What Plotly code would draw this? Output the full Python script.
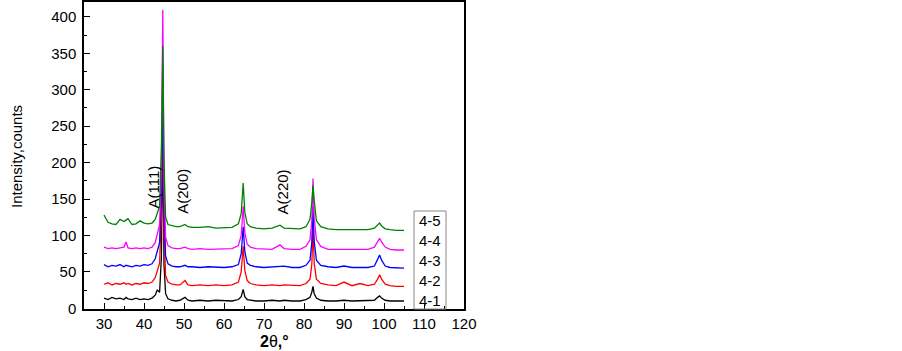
import plotly.graph_objects as go

# 2-theta positions (degrees)
two_theta = [30, 31, 32, 33, 34, 35, 35.5, 36, 37, 38,
             39, 40, 41, 42, 42.8, 43.3, 43.9, 44.35, 44.7, 45.0,
             45.4, 46.0, 47, 48, 49, 50.25, 51, 52, 54, 56,
             58, 60, 62, 63.6, 64.3, 64.8, 65.2, 65.8, 66.6, 68,
             70, 72, 74, 75, 77, 79, 80.5, 81.5, 81.95, 82.25,
             82.55, 83.1, 84.2, 86, 88, 90, 92, 94, 96, 97.6,
             98.4, 98.9, 99.4, 100.3, 101.5, 103, 105]

s41 = [14, 12, 15, 13, 14, 12, 15, 13, 12, 14,
       12, 13, 12, 14, 18, 25, 22, 70, 250, 60,
       20, 13, 11, 10, 11, 15, 11, 10, 11, 10,
       11, 10, 10, 12, 16, 26, 16, 12, 11, 10,
       10, 11, 10, 11, 10, 10, 12, 15, 22, 30,
       20, 14, 11, 10, 10, 11, 10, 10, 10, 11,
       15, 17, 14, 11, 10, 10, 10]

s42 = [33, 35, 32, 34, 33, 35, 33, 34, 32, 34,
       33, 35, 34, 36, 42, 50, 62, 130, 330, 110,
       45, 36, 33, 32, 32, 38, 32, 31, 32, 31,
       32, 31, 32, 36, 50, 85, 52, 38, 34, 32,
       31, 32, 31, 32, 31, 31, 34, 40, 60, 112,
       62, 40, 34, 32, 31, 36, 31, 34, 31, 33,
       40, 46, 40, 33, 31, 30, 30]

s43 = [60, 57, 59, 58, 60, 57, 59, 58, 57, 59,
       58, 60, 59, 61, 68, 78, 90, 160, 290, 140,
       72, 61, 58, 57, 57, 59, 57, 57, 56, 57,
       56, 56, 57, 60, 75, 112, 78, 62, 59, 57,
       56, 57, 57, 58, 56, 56, 59, 66, 90, 140,
       92, 66, 59, 57, 56, 58, 56, 56, 56, 58,
       66, 73, 66, 58, 56, 56, 55]

s44 = [84, 82, 83, 82, 83, 84, 91, 83, 82, 83,
       82, 83, 82, 84, 90, 100, 115, 190, 410, 170,
       98, 86, 83, 82, 82, 84, 82, 81, 82, 81,
       81, 81, 82, 86, 100, 140, 104, 88, 84, 82,
       81, 81, 87, 82, 81, 81, 85, 94, 120, 178,
       125, 94, 85, 81, 81, 81, 81, 81, 81, 84,
       92, 96, 91, 84, 81, 80, 80]

s45 = [128, 118, 116, 115, 122, 119, 121, 123, 115, 116,
       120, 117, 116, 117, 122, 130, 140, 220, 360, 200,
       125, 115, 113, 112, 112, 115, 112, 111, 111, 112,
       110, 110, 111, 116, 130, 172, 132, 116, 112, 110,
       109, 110, 114, 110, 109, 109, 112, 122, 145, 169,
       148, 120, 112, 109, 108, 108, 108, 108, 108, 110,
       115, 117, 113, 109, 108, 107, 107]

series_names = ["4-1", "4-2", "4-3", "4-4", "4-5"]
series_values = [s41, s42, s43, s44, s45]
series_colors = ["#000000", "#FF0000", "#0000FF", "#FF00FF", "#008000"]

peak_labels = ["A(111)", "A(200)", "A(220)"]
peak_label_x = [42.3, 49.75, 74.5]
peak_label_y = [166, 160, 159]

x_tickvals = [30, 40, 50, 60, 70, 80, 90, 100, 110, 120]
y_tickvals = [0, 50, 100, 150, 200, 250, 300, 350, 400]

FONT = "Liberation Sans, Arial, sans-serif"

# plot-area geometry in pixels
L, R, T, B = 84, 464, 2, 309
W_PX, H_PX = R - L, B - T

fig = go.Figure()
for name, vals, col in zip(series_names, series_values, series_colors):
    fig.add_trace(go.Scatter(x=two_theta, y=vals, mode="lines", name=name,
                             line=dict(color=col, width=1.3), showlegend=False))

for txt, xx, yy in zip(peak_labels, peak_label_x, peak_label_y):
    fig.add_annotation(x=xx, y=yy, xref="x", yref="y", text=txt, textangle=-90,
                       xanchor="center", yanchor="middle",
                       showarrow=False, font=dict(family=FONT, size=15, color="black"))

# legend box (text only, as in the reference)
fig.add_shape(type="rect", xref="paper", yref="paper",
              x0=(414 - L) / W_PX, x1=(446 - L) / W_PX,
              y0=0, y1=(B - 211) / H_PX,
              line=dict(color="#888888", width=1), fillcolor="rgba(0,0,0,0)",
              layer="above")
legend_y_px = [300, 280, 260, 240, 220]
for name, ypx in zip(series_names, legend_y_px):
    fig.add_annotation(x=(430 - L) / W_PX, y=(B - ypx) / H_PX, xref="paper", yref="paper",
                       text=name, showarrow=False, xanchor="center", yanchor="middle",
                       font=dict(family=FONT, size=15, color="black"))

# axis titles
fig.add_annotation(x=(274 - L) / W_PX, y=(B - 341) / H_PX, xref="paper", yref="paper",
                   text="<b>2</b>θ<b>,°</b>", showarrow=False,
                   xanchor="center", yanchor="middle",
                   font=dict(family=FONT, size=16, color="black"))
fig.add_annotation(x=(16 - L) / W_PX, y=(B - 157) / H_PX, xref="paper", yref="paper",
                   text="Intensity,counts", textangle=-90, showarrow=False,
                   xanchor="center", yanchor="middle",
                   font=dict(family=FONT, size=15, color="black"))

fig.update_layout(
    width=902, height=351,
    margin=dict(l=L, r=902 - R, t=T, b=351 - B, autoexpand=False),
    plot_bgcolor="white", paper_bgcolor="white",
    font=dict(family=FONT, size=15, color="black"),
)
fig.update_xaxes(
    range=[25, 120], tickvals=x_tickvals, ticks="inside", ticklen=6, tickwidth=1.2,
    tickcolor="black", showgrid=False, zeroline=False, showline=True,
    linecolor="black", linewidth=1.5, mirror=True, automargin=False,
    minor=dict(dtick=5, tick0=25, ticks="inside", ticklen=3, tickcolor="black", showgrid=False),
    tickfont=dict(family=FONT, size=15, color="black"),
)
fig.update_yaxes(
    range=[-1, 420.5], tickvals=y_tickvals, ticks="inside", ticklen=6, tickwidth=1.2,
    tickcolor="black", showgrid=False, zeroline=False, showline=True,
    linecolor="black", linewidth=1.5, mirror=True, automargin=False,
    ticklabelstandoff=3,
    minor=dict(dtick=25, tick0=0, ticks="inside", ticklen=3, tickcolor="black", showgrid=False),
    tickfont=dict(family=FONT, size=15, color="black"),
)

fig.write_html("out.html", config={"displayModeBar": False},
               post_script="document.body.style.margin='0px';")
